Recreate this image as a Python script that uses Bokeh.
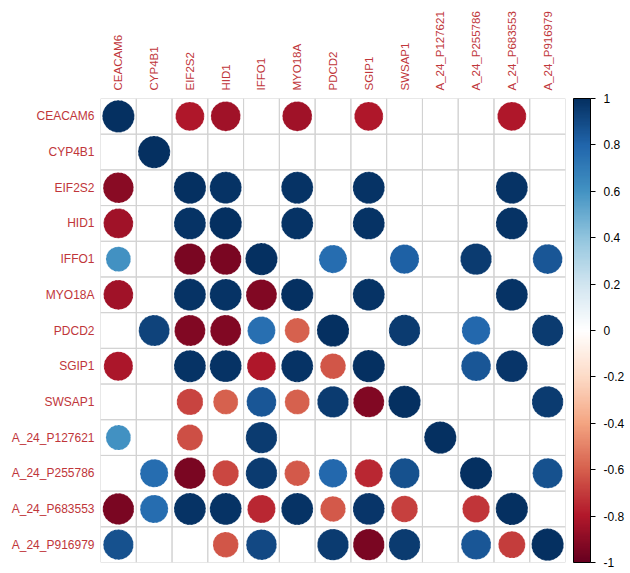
import math
from bokeh.plotting import figure
from bokeh.models import (ColumnDataSource, FactorRange, LinearColorMapper, ColorBar,
                          FixedTicker, CustomJSTickFormatter)
from bokeh.embed import file_html
from bokeh.resources import INLINE

genes = ["CEACAM6", "CYP4B1", "EIF2S2", "HID1", "IFFO1", "MYO18A", "PDCD2", "SGIP1",
         "SWSAP1", "A_24_P127621", "A_24_P255786", "A_24_P683553", "A_24_P916979"]

N = None
r_CEACAM6 = [1, N, -0.80, -0.85, N, -0.85, N, -0.80, N, N, N, -0.80, N]
r_CYP4B1 = [N, 1, N, N, N, N, N, N, N, N, N, N, N]
r_EIF2S2 = [-0.90, N, 1, 0.98, N, 0.98, N, 0.98, N, N, N, 0.98, N]
r_HID1 = [-0.85, N, 0.98, 1, N, 0.98, N, 0.98, N, N, N, 0.98, N]
r_IFFO1 = [0.60, N, -0.95, -0.95, 1, N, 0.76, N, 0.82, N, 0.95, N, 0.85]
r_MYO18A = [-0.85, N, 0.98, 0.98, -0.92, 1, N, 0.98, N, N, N, 0.98, N]
r_PDCD2 = [N, 0.92, -0.92, -0.92, 0.75, -0.60, 1, N, 0.95, N, 0.78, N, 0.95]
r_SGIP1 = [-0.82, N, 0.98, 0.98, -0.80, 0.98, -0.63, 1, N, N, 0.85, 0.97, N]
r_SWSAP1 = [N, N, -0.67, -0.60, 0.85, -0.60, 0.95, -0.92, 1, N, N, N, 0.95]
r_P127621 = [0.60, N, -0.65, N, 0.95, N, N, N, N, 1, N, N, N]
r_P255786 = [N, 0.76, -0.95, -0.66, 0.95, -0.62, 0.78, -0.76, 0.87, N, 1, N, 0.87]
r_P683553 = [-0.95, 0.76, 0.98, 0.98, -0.76, 0.98, -0.62, 0.97, -0.68, N, -0.72, 1, N]
r_P916979 = [0.88, N, N, -0.63, 0.90, N, 0.95, -0.95, 0.95, N, 0.86, -0.70, 1]

corr_rows = [r_CEACAM6, r_CYP4B1, r_EIF2S2, r_HID1, r_IFFO1, r_MYO18A, r_PDCD2, r_SGIP1,
             r_SWSAP1, r_P127621, r_P255786, r_P683553, r_P916979]

cb_ticks = [-1, -0.8, -0.6, -0.4, -0.2, 0, 0.2, 0.4, 0.6, 0.8, 1]

# corrplot RdBu palette (COL2('RdBu')) interpolated to 200 colours
base = ["#67001F", "#B2182B", "#D6604D", "#F4A582", "#FDDBC7", "#FFFFFF",
        "#D1E5F0", "#92C5DE", "#4393C3", "#2166AC", "#053061"]

def h2rgb(h):
    return tuple(int(h[i:i + 2], 16) for i in (1, 3, 5))

brgb = [h2rgb(c) for c in base]
pal = []
n = 200
for i in range(n):
    t = i / (n - 1) * (len(base) - 1)
    k = min(int(t), len(base) - 2)
    f = t - k
    c = tuple(round(brgb[k][j] + (brgb[k + 1][j] - brgb[k][j]) * f) for j in range(3))
    pal.append("#%02x%02x%02x" % c)

mapper = LinearColorMapper(palette=pal, low=-1, high=1)

xs, ys, vals, rads = [], [], [], []
gx, gy = [], []
for i, row in enumerate(corr_rows):
    for j, v in enumerate(row):
        gx.append(genes[j]); gy.append(genes[i])
        if v is None:
            continue
        xs.append(genes[j]); ys.append(genes[i]); vals.append(v)
        rads.append(0.45 * math.sqrt(abs(v)))

src = ColumnDataSource(dict(x=xs, y=ys, v=vals, r=rads))
gsrc = ColumnDataSource(dict(x=gx, y=gy))

FW, FH = 465, 464
p = figure(width=630, height=573, frame_width=FW, frame_height=FH,
           output_backend="svg", toolbar_location=None,
           x_range=FactorRange(*genes), y_range=FactorRange(*reversed(genes)),
           x_axis_location="above",
           min_border_left=100, min_border_top=98, min_border_bottom=11, min_border_right=65)
p.outline_line_color = None
p.grid.visible = False

p.rect("x", "y", width=1, height=1, source=gsrc, fill_color=None,
       line_color="#d2d2d2", line_width=1)
p.circle("x", "y", radius="r", source=src,
         fill_color={"field": "v", "transform": mapper},
         line_color="white", line_alpha=0.45, line_width=1, line_dash="2 2")

lab_col = "#c0363a"
for ax in (p.xaxis[0], p.yaxis[0]):
    ax.axis_line_color = None
    ax.major_tick_line_color = None
    ax.minor_tick_line_color = None
    ax.major_tick_out = 0
    ax.major_tick_in = 0
    ax.minor_tick_out = 0
    ax.major_label_text_color = lab_col
    ax.major_label_text_font = "Liberation Sans"
p.yaxis.major_label_text_font_size = "12px"
p.xaxis.major_label_text_font_size = "11.5px"
p.yaxis.major_label_standoff = 6
p.xaxis.major_label_standoff = 8
p.xaxis.major_label_orientation = "vertical"

cb = ColorBar(color_mapper=mapper, ticker=FixedTicker(ticks=cb_ticks),
              formatter=CustomJSTickFormatter(code="return tick.toFixed(1).replace(/\\.0$/, '')"),
              width=17, height=FH, margin=0, padding=0, location=(8, 0),
              bar_line_color="black", bar_line_width=1,
              major_tick_in=0, major_tick_out=5, major_tick_line_color="black",
              minor_tick_line_color=None, label_standoff=8,
              major_label_text_font="Liberation Sans", major_label_text_font_size="12px",
              major_label_text_color="black", border_line_color=None,
              background_fill_color=None)
p.add_layout(cb, "right")

open("out.html", "w").write(file_html(p, INLINE))
